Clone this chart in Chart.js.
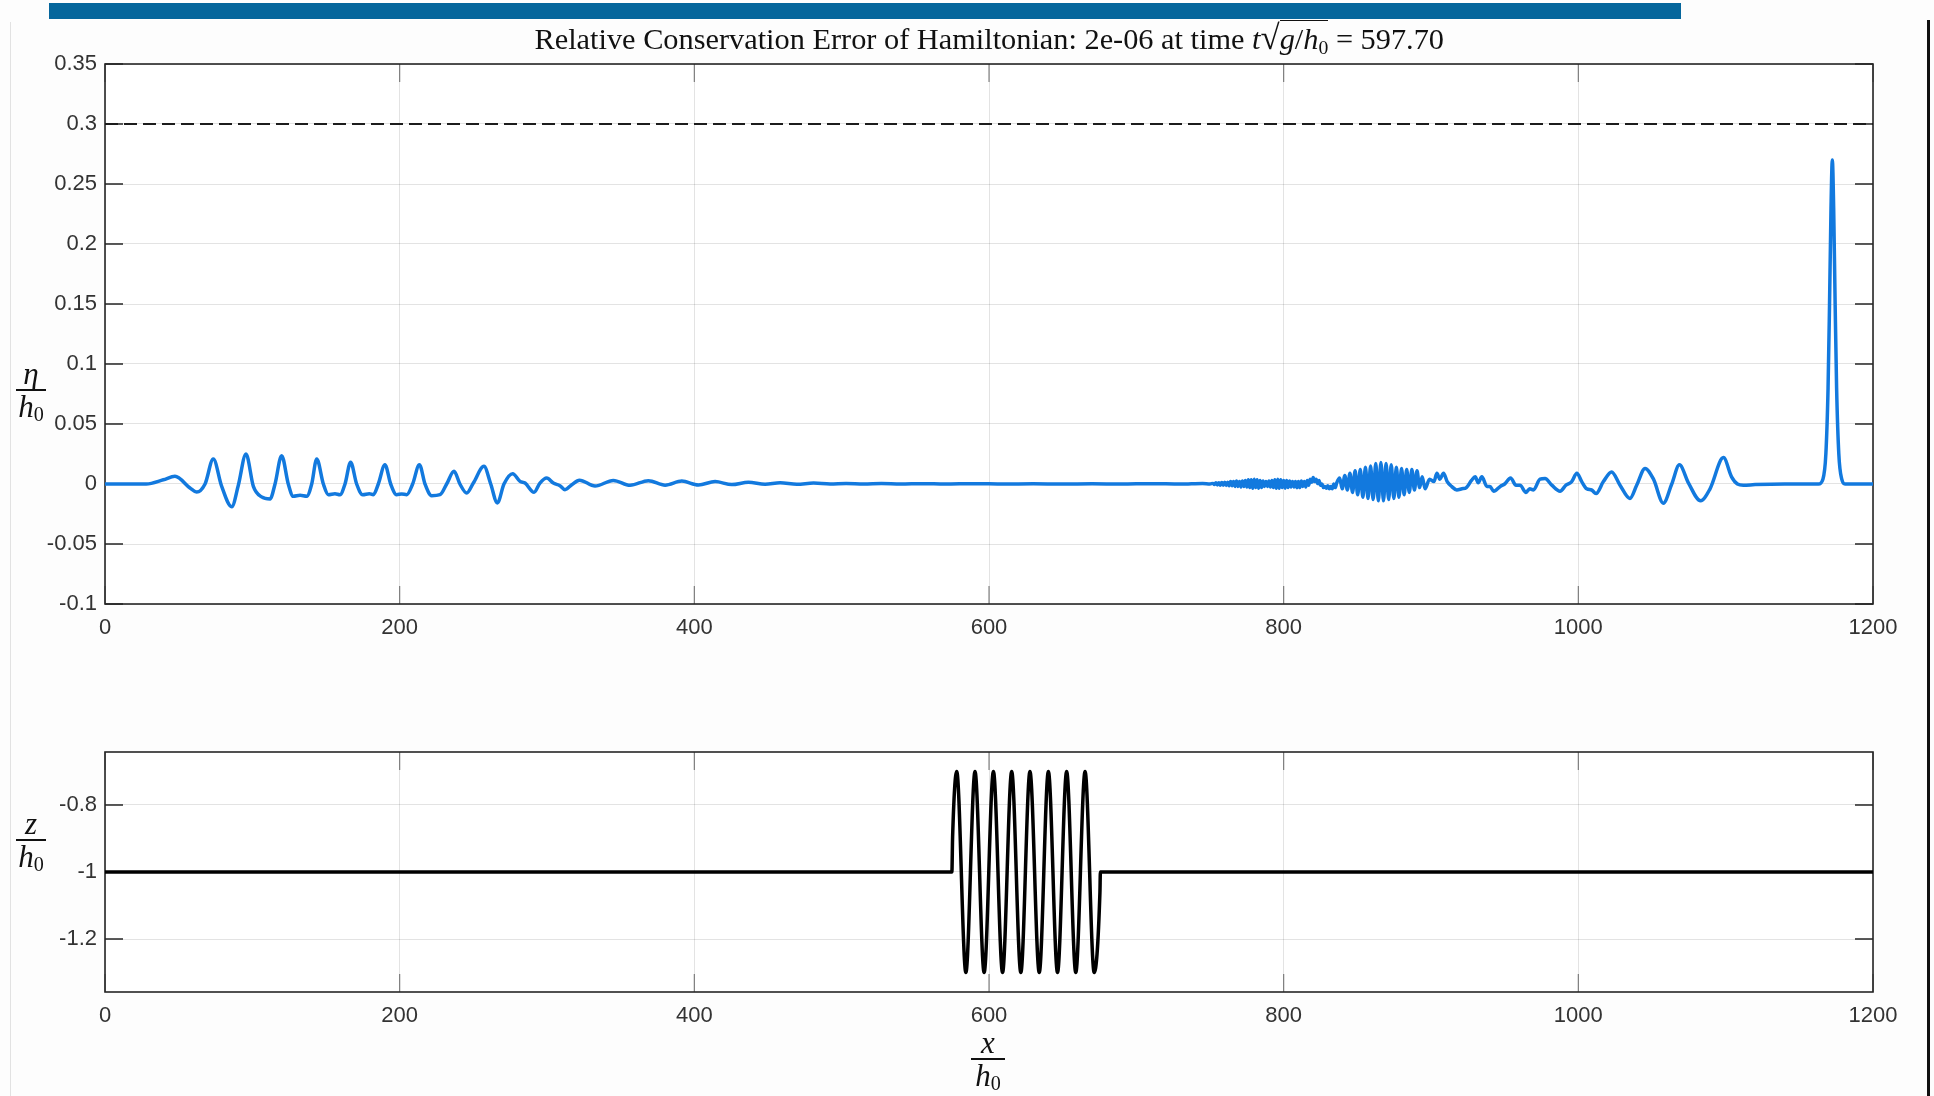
<!DOCTYPE html>
<html><head><meta charset="utf-8">
<script src="https://cdn.jsdelivr.net/npm/chart.js@4.4.1/dist/chart.umd.min.js"></script>
<style>
html,body{margin:0;padding:0;background:#fdfdfd;}
body{width:1934px;height:1096px;position:relative;overflow:hidden;}
#bar{position:absolute;left:49px;top:3px;width:1632px;height:16px;background:#05669c;}
#rline{position:absolute;left:1927px;top:20px;width:3px;height:1076px;background:#111;}
#lline{position:absolute;left:10px;top:22px;width:1px;height:1074px;background:#e2e2e2;}
#w1{position:absolute;left:0;top:0;width:1934px;height:660px;}
#w2{position:absolute;left:0;top:700px;width:1934px;height:396px;}
#title{position:absolute;top:17px;white-space:nowrap;color:#111;font-family:'Liberation Serif','DejaVu Serif',serif;font-size:24px;line-height:1.2;}
#title sub{font-size:0.65em;vertical-align:-0.25em;font-style:normal;}
.ov{border-top:1.5px solid #111;padding-top:1px;}
.sq{font-size:1.15em;}
.frac{position:absolute;width:0;height:0;font-family:'Liberation Serif','DejaVu Serif',serif;font-style:italic;font-size:31px;color:#111;line-height:1;}
.frac .num{position:absolute;bottom:1px;left:0;transform:translateX(-50%);white-space:nowrap;}
.frac .den{position:absolute;top:1px;left:0;transform:translateX(-50%);white-space:nowrap;}
.frac .den sub{font-style:normal;font-size:0.65em;vertical-align:-0.2em;}
.frac .ln{position:absolute;top:-1px;height:1.5px;background:#111;}
</style>
</head>
<body>
<div id="bar"></div>
<div id="lline"></div>
<div id="rline"></div>
<div id="w1"><canvas id="c1" width="1934" height="660"></canvas></div>
<div id="w2"><canvas id="c2" width="1934" height="396"></canvas></div>
<div id="title">Relative Conservation Error of Hamiltonian: 2e-06 at time <i>t</i><span class="sq">√</span><span class="ov"><i>g</i>/<i>h</i><sub>0</sub></span> = 597.70</div>
<div class="frac" style="left:31px;top:390px"><div class="num">η</div><div class="ln" style="left:-15px;width:30px"></div><div class="den">h<sub>0</sub></div></div>
<div class="frac" style="left:31px;top:840px"><div class="num">z</div><div class="ln" style="left:-15px;width:30px"></div><div class="den">h<sub>0</sub></div></div>
<div class="frac" style="left:988px;top:1059px"><div class="num">x</div><div class="ln" style="left:-17px;width:34px"></div><div class="den">h<sub>0</sub></div></div>
<script>
// ---- data ----
const etaX = [0,28,39.6,47.5,57.7,62.2,67.9,73.5,79.2,86,90.5,95.7,100.7,106.3,112,115.4,119.9,124.4,127.8,132.4,136.9,140.3,143.7,148.2,151.6,156.1,159.5,162.9,166.7,170.8,174.9,179.4,182.1,185.5,190,193.9,197.9,201.4,204.8,208.8,213.4,217.2,221.7,227.4,231.9,236.9,240.9,245.5,250,257.2,261.8,266.3,270.8,276.7,281.7,285.1,291.2,295.2,299.8,304.3,308.8,312.2,316.8,322,
332.6,345,356.4,368.8,380.2,391.5,402.8,414.1,425.4,436.7,448,458.2,469.6,480.9,492.2,503,515,527,540,555,570,590,610,630,650,670,690,710,730,745,750,
752,753,754,755,756,757,758,759,760,761,762,763,764,765,766,767,768,769,770,771,772,773,774,775,776,777,778,779,780,781,782,783,784,785,786,787,788,789,790,791,792,793,794,795,796,797,798,799,800,801,802,803,804,805,806,807,808,809,810,811,812,813,814,815,816,817,818,819,820,821,822,823,824,825,826,827,828,829,830,831,832,833,834,835,836,
838,839.75,841.5,843.25,845,846.75,848.5,850.25,852,853.75,855.5,857.25,859,860.75,862.5,864.25,866,867.75,869.5,871.25,873,874.75,876.5,878.25,880,881.75,883.5,885.25,887,888.75,890.5,892.25,894,
896,899,902,904,906,908.5,911,914,917.5,921,924,927.5,930,932,934.5,938,940,942.5,947,950,954,957.7,960.4,964.5,967,969.5,974,977.4,982,987.6,991.6,995.5,999,1002.3,1005.7,1009,1012,1017,1022.6,1028.3,1035,1039.6,1045.3,1051,1057.7,1063.4,1068.6,1074.7,1083,1089.4,1098.5,1104,1108,1112,1120,1140,1163,1166,1168,1169.5,1170.5,1171.5,1172.4,1173.3,1174.3,1175.3,1176.8,1178.8,1181,1200];
const etaY = [0,0,0.0035,0.0064,-0.0033,-0.0067,0,0.0208,-0.002,-0.019,-0.001,0.025,-0.002,-0.0108,-0.0125,0,0.0236,0,-0.0103,-0.0094,-0.0103,0,0.0208,0,-0.0089,-0.0081,-0.0089,0,0.0181,0,-0.0089,-0.0081,-0.0089,0,0.0161,0,-0.0089,-0.0083,-0.0089,0,0.0161,0,-0.0097,-0.0089,0,0.0106,0,-0.0075,0.0008,0.0147,0,-0.0158,0,0.0086,0.0022,0.0008,-0.0069,0.0008,0.005,0.0008,-0.0014,-0.0047,-0.0006,0.0032,
-0.0017,0.003,-0.0011,0.0028,-0.001,0.0024,-0.0008,0.002,-0.0005,0.0014,-0.0003,0.001,-0.0002,0.0008,0,0.0005,0,0.0004,0,0.0003,0,0.0003,0,0.0002,0,0.0002,0,0.0003,0,0.0005,0,
0.0005,-0.0005,0.001,-0.0008,0.001,-0.001,0.0012,-0.001,0.0015,-0.0012,0.0015,-0.0015,0.002,-0.0015,0.002,-0.002,0.0025,-0.002,0.002,-0.0025,0.0025,-0.002,0.003,-0.0025,0.0035,-0.003,0.0035,-0.0035,0.004,-0.003,0.0035,-0.0035,0.003,-0.003,0.0025,-0.002,0.002,-0.002,0.0025,-0.0025,0.003,-0.003,0.0035,-0.0035,0.004,-0.0035,0.0035,-0.003,0.003,-0.0035,0.003,-0.003,0.0025,-0.0025,0.002,-0.0025,0.002,-0.003,0.002,-0.003,0.0025,-0.002,0.002,-0.0025,0.003,-0.001,0.004,0.0015,0.0055,0.002,0.004,0.0005,0.003,-0.001,0,-0.003,-0.002,-0.0035,-0.0015,-0.004,-0.002,-0.004,0,-0.003,0.001,
0.005,-0.004,0.007,-0.005,0.009,-0.007,0.011,-0.009,0.012,-0.011,0.014,-0.012,0.015,-0.013,0.017,-0.014,0.018,-0.014,0.017,-0.013,0.016,-0.012,0.014,-0.011,0.013,-0.009,0.012,-0.007,0.012,-0.005,0.011,-0.003,0.006,
-0.004,0.004,0.002,0.009,0.004,0.009,0.002,-0.002,-0.005,-0.004,-0.003,0.003,0.006,0.001,0.006,-0.002,-0.002,-0.006,-0.002,0,0.005,-0.001,-0.001,-0.007,-0.004,-0.005,0.004,0.0045,-0.001,-0.006,-0.001,0.002,0.009,0.002,-0.004,-0.005,-0.008,0.002,0.010,-0.001,-0.012,-0.001,0.013,0.004,-0.016,0,0.016,0.001,-0.014,-0.004,0.022,0.006,0,-0.001,-0.0005,0,0,0.004,0.025,0.08,0.15,0.23,0.27,0.23,0.15,0.08,0.025,0.004,0,0];
const refX = [0,1200];
const refY = [0.3,0.3];
const bedX = [0,574.8,575.3,578.1,584.3,590.5,596.7,603.0,609.2,615.4,621.6,627.8,634.1,640.3,646.5,652.7,658.9,665.2,671.4,675.3,675.6,1200];
const bedY = [-1,-1,-0.895,-0.7,-1.3,-0.7,-1.3,-0.7,-1.3,-0.7,-1.3,-0.7,-1.3,-0.7,-1.3,-0.7,-1.3,-0.7,-1.3,-1.06,-1,-1];
const xTicks = [0,200,400,600,800,1000,1200];
const xTickLabels = ['0','200','400','600','800','1000','1200'];
const etaTicks = [-0.1,-0.05,0,0.05,0.1,0.15,0.2,0.25,0.3,0.35];
const etaTickLabels = ['-0.1','-0.05','0','0.05','0.1','0.15','0.2','0.25','0.3','0.35'];
const bedTicks = [-1.2,-1,-0.8];
const bedTickLabels = ['-1.2','-1','-0.8'];

const pts = (xs, ys) => xs.map((x, i) => ({x: x, y: ys[i]}));

Chart.defaults.font.family = "'Liberation Sans', Arial, sans-serif";
Chart.defaults.color = '#333333';

const frame = {
  id: 'frame',
  beforeDraw(chart) {
    const {ctx, chartArea: a} = chart;
    ctx.save();
    ctx.fillStyle = '#ffffff';
    ctx.fillRect(a.left, a.top, a.right - a.left, a.bottom - a.top);
    ctx.restore();
  },
  beforeDatasetsDraw(chart) {
    const {ctx, chartArea: a, scales} = chart;
    const x = scales.x, y = scales.y;
    ctx.save();
    ctx.strokeStyle = '#262626';
    ctx.lineWidth = 1.6;
    ctx.strokeRect(a.left, a.top, a.right - a.left, a.bottom - a.top);
    const L = 18;
    ctx.beginPath();
    y.ticks.forEach(t => {
      const p = y.getPixelForValue(t.value);
      ctx.moveTo(a.left, p); ctx.lineTo(a.left + L, p);
      ctx.moveTo(a.right, p); ctx.lineTo(a.right - L, p);
    });
    ctx.stroke();
    ctx.strokeStyle = 'rgba(38,38,38,0.55)';
    ctx.lineWidth = 1.2;
    ctx.beginPath();
    x.ticks.forEach(t => {
      const p = x.getPixelForValue(t.value);
      ctx.moveTo(p, a.bottom); ctx.lineTo(p, a.bottom - L);
      ctx.moveTo(p, a.top); ctx.lineTo(p, a.top + L);
    });
    ctx.stroke();
    ctx.restore();
  }
};

function xScale() {
  return {
    type: 'linear', min: 0, max: 1200,
    afterBuildTicks: s => { s.ticks = xTicks.map(v => ({value: v})); },
    afterFit: s => { s.height = 40; },
    ticks: { callback: (v, i) => xTickLabels[i], font: {size: 22}, padding: 11, maxRotation: 0, autoSkip: false },
    grid: { color: 'rgba(38,38,38,0.13)', lineWidth: 1, drawTicks: false },
    border: { display: false }
  };
}
function yScale(min, max, ticks, labels) {
  return {
    type: 'linear', min: min, max: max,
    afterBuildTicks: s => { s.ticks = ticks.map(v => ({value: v})); },
    afterFit: s => { s.width = 105; },
    ticks: { callback: (v, i) => labels[i], font: {size: 22}, padding: 8, autoSkip: false },
    grid: { color: 'rgba(38,38,38,0.13)', lineWidth: 1, drawTicks: false },
    border: { display: false }
  };
}

new Chart(document.getElementById('c1'), {
  type: 'line',
  data: { datasets: [
    { data: pts(refX, refY), borderColor: '#1c1c1c', borderWidth: 2, borderDash: [13, 6], pointRadius: 0, tension: 0 },
    { data: pts(etaX, etaY), borderColor: '#1279de', borderWidth: 3.5, pointRadius: 0, cubicInterpolationMode: 'monotone' }
  ]},
  options: {
    responsive: false, animation: false, devicePixelRatio: 1,
    parsing: false, normalized: true,
    layout: { padding: { left: 0, right: 61, top: 64, bottom: 16 } },
    plugins: { legend: { display: false }, tooltip: { enabled: false } },
    scales: { x: xScale(), y: yScale(-0.1, 0.35, etaTicks, etaTickLabels) }
  },
  plugins: [frame]
});

new Chart(document.getElementById('c2'), {
  type: 'line',
  data: { datasets: [
    { data: pts(bedX, bedY), borderColor: '#000000', borderWidth: 3.5, pointRadius: 0, cubicInterpolationMode: 'monotone' }
  ]},
  options: {
    responsive: false, animation: false, devicePixelRatio: 1,
    parsing: false, normalized: true,
    layout: { padding: { left: 0, right: 61, top: 52, bottom: 64 } },
    plugins: { legend: { display: false }, tooltip: { enabled: false } },
    scales: { x: xScale(), y: yScale(-1.358, -0.642, bedTicks, bedTickLabels) }
  },
  plugins: [frame]
});

// fit title to the reference width and centre it
(function () {
  const t = document.getElementById('title');
  const target = 910, cx = 989;
  const w = t.offsetWidth;
  t.style.fontSize = (24 * target / w).toFixed(2) + 'px';
  t.style.left = (cx - t.offsetWidth / 2) + 'px';
})();
</script>
</body></html>
